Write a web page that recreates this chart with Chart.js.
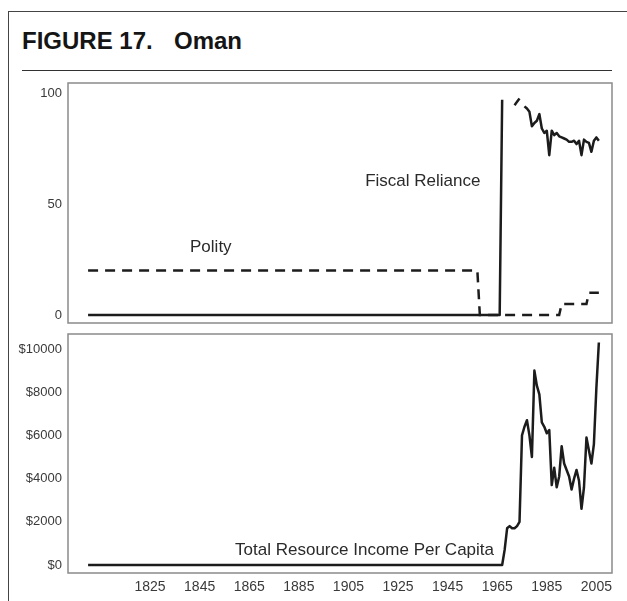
<!DOCTYPE html>
<html>
<head>
<meta charset="utf-8">
<script src="https://cdn.jsdelivr.net/npm/chart.js@4.4.1/dist/chart.umd.min.js"></script>
<style>
  html, body { margin: 0; padding: 0; background: #fff; }
  #page { position: relative; width: 627px; height: 601px; overflow: hidden; font-family: "Liberation Sans", Arial, sans-serif; }
  #frame { position: absolute; left: 8px; top: 11px; width: 640px; height: 620px; border-left: 1.5px solid #444; border-top: 1.5px solid #444; }
  #title { position: absolute; left: 22px; top: 27px; font-size: 24px; font-weight: bold; color: #151515; white-space: nowrap; }
  #title .country { position: absolute; left: 152px; }
  #rule { position: absolute; left: 22px; top: 70px; width: 590px; height: 0; border-top: 1.5px solid #333; }
  canvas { position: absolute; left: 0; top: 0; }
</style>
</head>
<body>
<div id="page">
  <div id="frame"></div>
  <div id="title">FIGURE 17.<span class="country">Oman</span></div>
  <div id="rule"></div>
  <canvas id="top-chart" width="627" height="601"></canvas>
  <canvas id="bottom-chart" width="627" height="601"></canvas>
</div>
<script>
// Fiscal reliance (0-100), null = missing year
const fiscalYears = [1800, 1966, 1967, 1968, 1971, 1972, 1973, 1974, 1975,
  1976, 1977, 1978, 1979, 1980, 1981, 1982, 1983, 1984, 1985, 1986, 1987, 1988, 1989, 1990,
  1991, 1992, 1993, 1994, 1995, 1996, 1997, 1998, 1999, 2000, 2001, 2002, 2003, 2004, 2005, 2006];
const fiscalValues = [0, 0, 97, null, null, 94.5, 96, 97.5, null,
  94, 93, 91.5, 85, 86.5, 87.5, 90.5, 84, 82, 83, 72, 83, 81, 82, 80.5,
  80, 79.5, 79, 78, 78, 78.5, 77, 78.5, 72, 79, 78, 77.5, 73.5, 78.5, 80, 78.5];

// Polity (rescaled 0-100)
const polityYears = [1800, 1957, 1958, 1990, 1991, 2001, 2002, 2006];
const polityValues = [20, 20, 0, 0, 5, 5, 10, 10];

// Total resource income per capita (US$)
const incomeYears = [1800, 1967, 1968, 1969, 1970, 1971, 1972, 1973, 1974, 1975,
  1976, 1977, 1978, 1979, 1980, 1981, 1982, 1983, 1984, 1985, 1986, 1987, 1988, 1989, 1990,
  1991, 1992, 1993, 1994, 1995, 1996, 1997, 1998, 1999, 2000, 2001, 2002, 2003, 2004, 2005, 2006];
const incomeValues = [0, 0, 700, 1700, 1800, 1700, 1700, 1800, 2000, 6000,
  6400, 6700, 6000, 5000, 9000, 8300, 7900, 6600, 6400, 6100, 6250, 3700, 4500, 3600, 4100,
  5500, 4700, 4400, 4100, 3500, 4000, 4400, 3900, 2600, 3600, 5900, 5300, 4700, 5600, 8200, 10300];

// tick labels
const yearTicks = [1825, 1845, 1865, 1885, 1905, 1925, 1945, 1965, 1985, 2005];
const relianceTicks = [0, 50, 100];
const incomeTicks = [0, 2000, 4000, 6000, 8000, 10000];

const pairs = (xs, ys) => xs.map((x, i) => ({ x: x, y: ys[i] }));

const INK = "#1c1c1c";
const LABEL = "#3a3a3a";
const FONT = "'Liberation Sans', Arial, sans-serif";

const panelFrame = {
  id: "panelFrame",
  afterDraw(chart) {
    const { ctx, chartArea: a } = chart;
    ctx.save();
    ctx.strokeStyle = "#8a8a8a";
    ctx.lineWidth = 1.5;
    ctx.strokeRect(a.left, a.top, a.right - a.left, a.bottom - a.top);
    ctx.restore();
  }
};

const textNotes = {
  id: "textNotes",
  afterDatasetsDraw(chart, args, opts) {
    const ctx = chart.ctx;
    ctx.save();
    ctx.font = "17px " + FONT;
    ctx.fillStyle = "#2a2a2a";
    ctx.textAlign = "center";
    ctx.textBaseline = "middle";
    (opts.items || []).forEach(n => {
      const x = chart.scales.x.getPixelForValue(n.year);
      const y = chart.scales.y.getPixelForValue(n.value);
      ctx.fillText(n.text, x, y);
    });
    ctx.restore();
  }
};

function fixTicks(list) {
  return scale => { scale.ticks = list.map(v => ({ value: v })); };
}

const xRange = { min: 1791.9, max: 2011.3 };

new Chart(document.getElementById("top-chart"), {
  type: "line",
  data: {
    datasets: [
      {
        label: "Fiscal Reliance",
        data: pairs(fiscalYears, fiscalValues),
        borderColor: INK,
        borderWidth: 2.5,
        pointRadius: 0,
        tension: 0,
        spanGaps: false,
        borderJoinStyle: "round"
      },
      {
        label: "Polity",
        data: pairs(polityYears, polityValues),
        borderColor: INK,
        borderWidth: 2.5,
        borderDash: [10, 7],
        pointRadius: 0,
        tension: 0
      }
    ]
  },
  options: {
    responsive: false,
    animation: false,
    devicePixelRatio: 1,
    layout: { padding: { left: 0, top: 83, right: 15, bottom: 278 } },
    scales: {
      x: { type: "linear", min: xRange.min, max: xRange.max, display: false },
      y: {
        type: "linear",
        min: -3.6,
        max: 104.5,
        grid: { display: false, drawTicks: false },
        border: { display: false },
        afterBuildTicks: fixTicks(relianceTicks),
        afterFit: scale => { scale.width = 68; },
        ticks: { color: LABEL, padding: 6, autoSkip: false, font: { family: FONT, size: 13 } }
      }
    },
    plugins: {
      legend: { display: false },
      tooltip: { enabled: false },
      textNotes: {
        items: [
          { text: "Fiscal Reliance", year: 1935, value: 60 },
          { text: "Polity", year: 1849.5, value: 30.5 }
        ]
      }
    }
  },
  plugins: [panelFrame, textNotes]
});

new Chart(document.getElementById("bottom-chart"), {
  type: "line",
  data: {
    datasets: [
      {
        label: "Total Resource Income Per Capita",
        data: pairs(incomeYears, incomeValues),
        borderColor: INK,
        borderWidth: 2.5,
        pointRadius: 0,
        tension: 0,
        borderJoinStyle: "round"
      }
    ]
  },
  options: {
    responsive: false,
    animation: false,
    devicePixelRatio: 1,
    layout: { padding: { left: 0, top: 334, right: 15, bottom: 0 } },
    scales: {
      x: {
        type: "linear",
        min: xRange.min,
        max: xRange.max,
        grid: { display: false, drawTicks: false },
        border: { display: false },
        afterBuildTicks: fixTicks(yearTicks),
        afterFit: scale => { scale.height = 28; },
        ticks: {
          color: LABEL, padding: 6, autoSkip: false, maxRotation: 0, minRotation: 0,
          font: { family: FONT, size: 14 },
          callback: v => String(v)
        }
      },
      y: {
        type: "linear",
        min: -370,
        max: 10694,
        grid: { display: false, drawTicks: false },
        border: { display: false },
        afterBuildTicks: fixTicks(incomeTicks),
        afterFit: scale => { scale.width = 68; },
        ticks: {
          color: LABEL, padding: 6, autoSkip: false,
          font: { family: FONT, size: 13 },
          callback: v => "$" + v
        }
      }
    },
    plugins: {
      legend: { display: false },
      tooltip: { enabled: false },
      textNotes: {
        items: [
          { text: "Total Resource Income Per Capita", year: 1911.5, value: 700 }
        ]
      }
    }
  },
  plugins: [panelFrame, textNotes]
});
</script>
</body>
</html>
